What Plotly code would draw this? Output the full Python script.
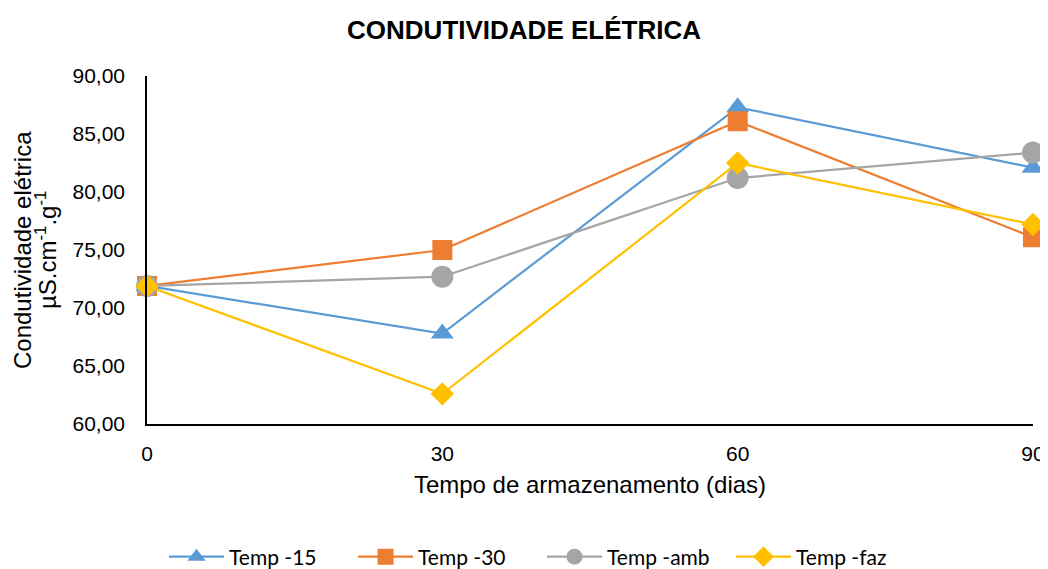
import plotly.graph_objects as go

dias = [0, 30, 60, 90]
temp_15 = [71.9, 67.8, 87.3, 82.1]
temp_30 = [71.9, 75.0, 86.1, 76.1]
temp_amb = [71.9, 72.7, 81.2, 83.4]
temp_faz = [71.9, 62.6, 82.5, 77.2]

series = [
    ("Temp -15", temp_15, "#5B9BD5", "triangle-up", 20),
    ("Temp -30", temp_30, "#ED7D31", "square", 20),
    ("Temp -amb", temp_amb, "#A5A5A5", "circle", 22),
    ("Temp -faz", temp_faz, "#FFC000", "diamond", 18),
]

fig = go.Figure()
for nome, valores, cor, simbolo, tam in series:
    fig.add_trace(
        go.Scatter(
            x=dias,
            y=valores,
            mode="lines+markers",
            name=nome,
            line=dict(color=cor, width=2.2),
            marker=dict(symbol=simbolo, size=tam, color=cor),
            cliponaxis=False,
        )
    )

# título do eixo y em duas linhas, como anotações (espaçamento mais justo)
for texto, xpos in [
    ("Condutividade elétrica", 14),
    ("µS.cm<sup>-1</sup>.g<sup>-1</sup>", 38),
]:
    fig.add_annotation(
        text=texto,
        xref="paper",
        yref="paper",
        x=(xpos - 139) / 886,
        y=0.5,
        xanchor="center",
        yanchor="middle",
        textangle=-90,
        showarrow=False,
        font=dict(size=24),
    )

# a página tem ~8px de margem no body: compensar nas margens
fig.update_layout(
    width=1048,
    height=569,
    paper_bgcolor="white",
    plot_bgcolor="white",
    separators=",.",
    font=dict(family="Liberation Sans, Arial", size=21, color="black"),
    title=dict(
        text="<b>CONDUTIVIDADE ELÉTRICA</b>",
        x=(524 - 8) / 1048,
        xanchor="center",
        y=1 - 22 / 569,
        yanchor="middle",
        font=dict(size=26, color="black"),
    ),
    margin=dict(l=139, r=23, t=68, b=153),
    xaxis=dict(
        range=[0, 90],
        tickvals=dias,
        showgrid=False,
        zeroline=False,
        showline=True,
        linecolor="black",
        linewidth=1.5,
        ticks="",
        ticklabelstandoff=10,
        automargin=False,
        title=dict(text="Tempo de armazenamento (dias)", standoff=12, font=dict(size=24)),
    ),
    yaxis=dict(
        range=[60, 90],
        dtick=5,
        tickformat=".2f",
        showgrid=False,
        zeroline=False,
        showline=True,
        linecolor="black",
        linewidth=1.5,
        ticks="",
        ticklabelstandoff=16,
        automargin=False,
    ),
    legend=dict(
        orientation="h",
        xref="container",
        yref="container",
        x=(542 - 8) / 1048,
        xanchor="center",
        y=1 - 549 / 569,
        yanchor="middle",
        font=dict(family="Lato, Open Sans", size=21),
        itemwidth=55,
        entrywidth=119,
    ),
)

fig.write_html("out.html")
